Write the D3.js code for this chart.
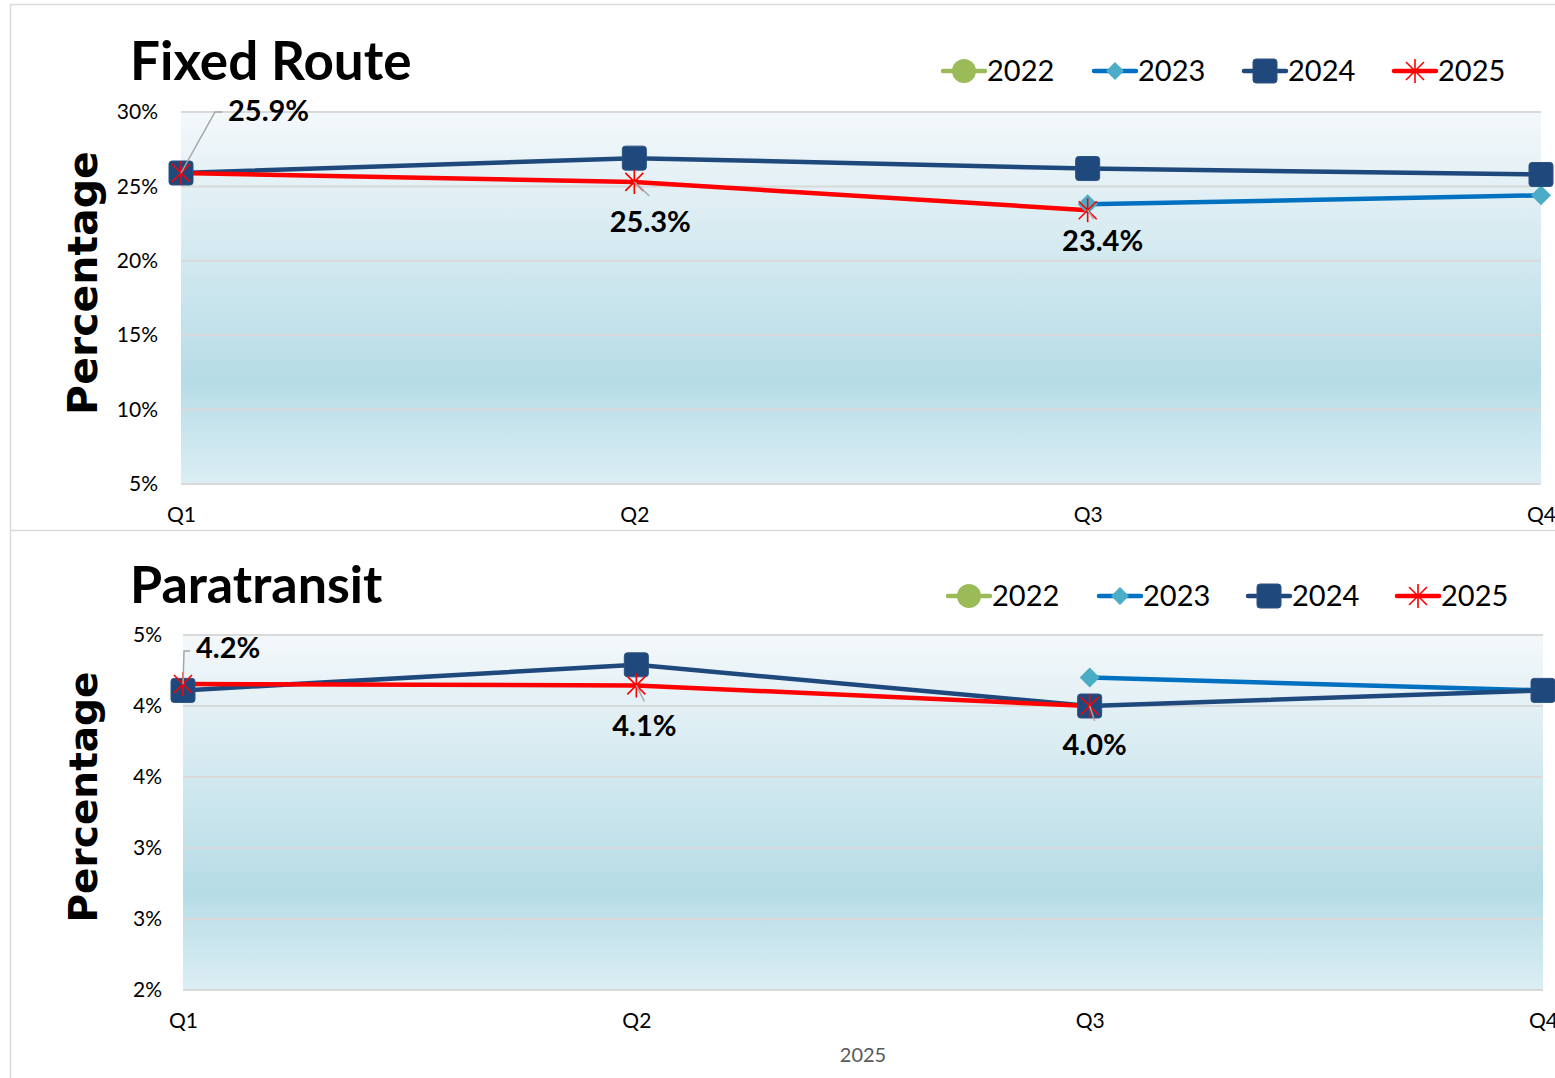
<!DOCTYPE html>
<html>
<head>
<meta charset="utf-8">
<script src="https://cdn.jsdelivr.net/npm/d3@7"></script>
<style>
  body { margin: 0; background: #fff; }
  svg { display: block; }
</style>
</head>
<body>
<div id="main"></div>
<script>
// quarters and series
var quarters = ["Q1", "Q2", "Q3", "Q4"];
var seriesNames = ["2022", "2023", "2024", "2025"];

// Fixed Route percentages (null = no point)
var fixed2022 = [null, null, null, null];
var fixed2023 = [null, null, 23.8, 24.4];
var fixed2024 = [25.9, 26.9, 26.2, 25.8];
var fixed2025 = [25.9, 25.3, 23.4, null];
var fixedTicks = [5, 10, 15, 20, 25, 30];

// Paratransit percentages
var para2022 = [null, null, null, null];
var para2023 = [null, null, 4.2, 4.11];
var para2024 = [4.11, 4.29, 4.0, 4.11];
var para2025 = [4.155, 4.145, 4.0, null];
var paraTicks = [2, 2.5, 3, 3.5, 4, 4.5];

var xTitle = "2025";

var colors = { "2022": "#9bbb59", "2023": "#0070c0", "2024": "#1f497d", "2025": "#ff0000" };
var markerColors = { "2022": "#9bbb59", "2023": "#4bacc6", "2024": "#1f497d", "2025": "#ff0000" };

var W = 1555, H = 1078;
var svg = d3.select("#main").append("svg").attr("width", W).attr("height", H);

var defs = svg.append("defs");
var grad = defs.append("linearGradient").attr("id", "bg").attr("x1", 0).attr("y1", 0).attr("x2", 0).attr("y2", 1);
grad.append("stop").attr("offset", "0%").attr("stop-color", "#f4f8fb");
grad.append("stop").attr("offset", "72%").attr("stop-color", "#b6dce6");
grad.append("stop").attr("offset", "100%").attr("stop-color", "#dbeef4");

// outer frame lines
svg.append("line").attr("x1", 10).attr("x2", W).attr("y1", 4.5).attr("y2", 4.5).attr("stroke", "#d9d9d9").attr("stroke-width", 1.5);
svg.append("line").attr("x1", 10.5).attr("x2", 10.5).attr("y1", 4).attr("y2", H).attr("stroke", "#d9d9d9").attr("stroke-width", 1.5);
svg.append("line").attr("x1", 10).attr("x2", W).attr("y1", 530.5).attr("y2", 530.5).attr("stroke", "#d9d9d9").attr("stroke-width", 1.5);

function drawMarker(g, name, x, y, size) {
  var c = markerColors[name];
  if (name == "2022") {
    g.append("circle").attr("cx", x).attr("cy", y).attr("r", size * 0.5).attr("fill", c);
  } else if (name == "2023") {
    var s = size * 0.5;
    g.append("path").attr("d", "M" + x + "," + (y - s) + "L" + (x + s) + "," + y + "L" + x + "," + (y + s) + "L" + (x - s) + "," + y + "Z")
      .attr("fill", c);
  } else if (name == "2024") {
    g.append("rect").attr("x", x - size / 2).attr("y", y - size / 2).attr("width", size).attr("height", size)
      .attr("rx", 3).attr("fill", c).attr("stroke", "#2c5282").attr("stroke-width", 1);
  } else {
    var r = size / 2;
    var d = r * 0.75;
    g.append("path")
      .attr("d", "M" + x + "," + (y - r) + "L" + x + "," + (y + r) +
        "M" + (x - d) + "," + (y - d) + "L" + (x + d) + "," + (y + d) +
        "M" + (x - d) + "," + (y + d) + "L" + (x + d) + "," + (y - d))
      .attr("stroke", c).attr("stroke-width", 1.6).attr("fill", "none");
  }
}

function drawPanel(opt) {
  var g = svg.append("g");
  var x = d3.scalePoint().domain(quarters).range([opt.left, opt.right]);
  var y = d3.scaleLinear().domain([opt.ticks[0], opt.ticks[opt.ticks.length - 1]]).range([opt.bottom, opt.top]);

  g.append("rect").attr("x", opt.left).attr("y", opt.top).attr("width", opt.right - opt.left)
    .attr("height", opt.bottom - opt.top).attr("fill", "url(#bg)");

  // gridlines + y labels
  g.selectAll(".grid").data(opt.ticks).enter().append("line")
    .attr("x1", opt.left).attr("x2", opt.right)
    .attr("y1", function(d) { return y(d); }).attr("y2", function(d) { return y(d); })
    .attr("stroke", "#d9d9d9").attr("stroke-width", 2);

  var yAxis = d3.axisLeft(y).tickValues(opt.ticks).tickSize(0).tickPadding(opt.tickPad)
    .tickFormat(function(d) { return Math.round(d) + "%"; });
  var ya = g.append("g").attr("transform", "translate(" + opt.left + ",0)").call(yAxis);
  ya.select(".domain").remove();
  ya.selectAll("text").attr("font-family", "Lato, sans-serif").attr("font-size", 21).attr("fill", "#000");

  var xAxis = d3.axisBottom(x).tickSize(0).tickPadding(23);
  var xa = g.append("g").attr("transform", "translate(0," + opt.bottom + ")").call(xAxis);
  xa.select(".domain").remove();
  xa.selectAll("text").attr("font-family", "Lato, sans-serif").attr("font-size", 21).attr("fill", "#000");

  // title
  g.append("text").attr("x", 130).attr("y", opt.titleY).text(opt.title)
    .attr("font-family", "Lato, sans-serif").attr("font-weight", "bold").attr("font-size", opt.titleSize).attr("fill", "#000");

  // y axis title
  g.append("text").attr("transform", "translate(97," + opt.yTitleY + ") rotate(-90)")
    .attr("text-anchor", "middle").text("Percentage")
    .attr("font-family", "DejaVu Sans, sans-serif").attr("font-weight", "bold").attr("font-size", opt.yTitleSize).attr("fill", "#000");

  // lines
  var line = d3.line().defined(function(d) { return d != null; })
    .x(function(d, i) { return x(quarters[i]); }).y(function(d) { return y(d); });
  seriesNames.forEach(function(name, k) {
    var vals = opt.series[k];
    g.append("path").datum(vals).attr("d", line).attr("fill", "none")
      .attr("stroke", colors[name]).attr("stroke-width", 4.5).attr("stroke-linejoin", "round");
  });
  seriesNames.forEach(function(name, k) {
    var vals = opt.series[k];
    vals.forEach(function(v, i) {
      if (v == null) return;
      drawMarker(g, name, x(quarters[i]), y(v), name == "2023" ? 20 : 24);
    });
  });

  // data labels for 2025 with leader lines
  var labelled = opt.series[3];
  labelled.forEach(function(v, i) {
    if (v == null) return;
    var px = x(quarters[i]), py = y(v);
    var o = opt.labelPos[i];
    g.append("path").attr("d", o.leader.map(function(p, j) { return (j ? "L" : "M") + (px + p[0]) + "," + (py + p[1]); }).join(""))
      .attr("fill", "none").attr("stroke", "#a6a6a6").attr("stroke-width", 1.5);
    g.append("text").attr("x", px + o.dx).attr("y", py + o.dy).attr("text-anchor", o.anchor)
      .text(v.toFixed(1) + "%")
      .attr("font-family", "Lato, sans-serif").attr("font-weight", "bold").attr("font-size", 29).attr("fill", "#000");
  });

  // legend
  var lg = g.append("g");
  seriesNames.forEach(function(name, k) {
    var lx = opt.legendX[k], ly = opt.legendY;
    lg.append("line").attr("x1", lx).attr("x2", lx + 42).attr("y1", ly).attr("y2", ly)
      .attr("stroke", colors[name]).attr("stroke-width", 4.5).attr("stroke-linecap", "round");
    drawMarker(lg, name, lx + 21, ly, name == "2023" ? 18 : 24);
    lg.append("text").attr("x", lx + 44).attr("y", ly + 10).text(name)
      .attr("font-family", "Lato, sans-serif").attr("font-size", 29).attr("fill", "#000");
  });
  return { x: x, y: y };
}

drawPanel({
  title: "Fixed Route", titleY: 80, titleSize: 53,
  left: 181, right: 1541, top: 112, bottom: 484,
  ticks: fixedTicks, tickPad: 23,
  yTitleY: 283, yTitleSize: 41,
  series: [fixed2022, fixed2023, fixed2024, fixed2025],
  legendX: [943, 1094, 1244, 1394], legendY: 71,
  labelPos: [
    { dx: 47, dy: -52, anchor: "start", leader: [[0, 0], [34, -61], [41, -61]] },
    { dx: 16, dy: 50, anchor: "middle", leader: [[0, 0], [15, 14]] },
    { dx: 15, dy: 41, anchor: "middle", leader: [[0, 0], [6, 9]] },
    null
  ]
});

var bottomPanel = drawPanel({
  title: "Paratransit", titleY: 603, titleSize: 52,
  left: 183, right: 1543, top: 635, bottom: 990,
  ticks: paraTicks, tickPad: 21,
  yTitleY: 797, yTitleSize: 39,
  series: [para2022, para2023, para2024, para2025],
  legendX: [948, 1099, 1248, 1397], legendY: 596,
  labelPos: [
    { dx: 13, dy: -26, anchor: "start", leader: [[0, 0], [1, -33], [7, -33]] },
    { dx: 8, dy: 51, anchor: "middle", leader: [[0, 0], [8, 16]] },
    { dx: 5, dy: 49, anchor: "middle", leader: [[0, 0], [5, 15]] },
    null
  ]
});

svg.append("text").attr("x", 863).attr("y", 1062).attr("text-anchor", "middle").text(xTitle)
  .attr("font-family", "Lato, sans-serif").attr("font-size", 20).attr("fill", "#595959");
</script>
</body>
</html>
